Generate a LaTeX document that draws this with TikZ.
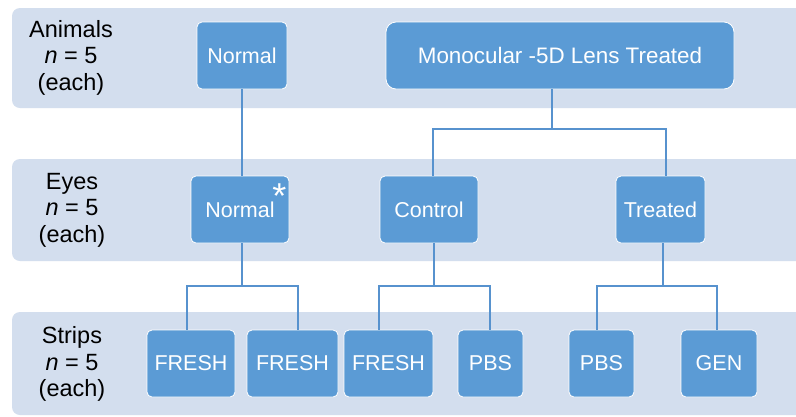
\documentclass[tikz,border=0pt]{standalone}
\usepackage{fontspec}
\setmainfont{Liberation Sans}
\definecolor{bandc}{HTML}{D3DEEE}
\definecolor{boxc}{HTML}{5B9BD5}
\definecolor{linkc}{HTML}{5792CE}
\tikzset{
  band/.style={fill=bandc},
  box/.style={rectangle, rounded corners=5pt, fill=boxc, draw=white, line width=0.8pt,
    text=white, inner sep=0pt, minimum height=67pt, font=\fontsize{21.5}{24}\selectfont},
  lbl/.style={align=center, text=black, inner sep=0pt, font=\fontsize{23.5}{26.5}\selectfont},
  link/.style={draw=linkc, line width=1.4pt}
}
\begin{document}
\begin{tikzpicture}[x=1pt,y=-1pt]
\useasboundingbox (0,0) rectangle (796,416);
\fill[white] (0,0) rectangle (796,416);
% bands
\fill[band] (796,8) [rounded corners=8pt]-- (12,8) -- (12,108) [sharp corners]-- (796,108) -- cycle;
\fill[band] (796,159) [rounded corners=8pt]-- (12,159) -- (12,261) [sharp corners]-- (796,261) -- cycle;
\fill[band] (796,312) [rounded corners=8pt]-- (12,312) -- (12,415) [sharp corners]-- (796,415) -- cycle;
% row labels
\node[lbl] (l1) at (71,57.5) {Animals\\\textit{n} = 5\\(each)};
\node[lbl] (l2) at (72,210) {Eyes\\\textit{n} = 5\\(each)};
\node[lbl] (l3) at (72,364) {Strips\\\textit{n} = 5\\(each)};
% top row
\node[box, minimum width=90pt] (aN) at (242,55.5) {Normal};
\node[box, minimum width=348pt, rounded corners=10pt, font=\fontsize{22.4}{26}\selectfont] (aM) at (560,55.5) {Monocular -5D Lens Treated};
% eyes row
\node[box, minimum width=98pt] (eN) at (240,209.5) {Normal};
\node[text=white, inner sep=0pt, anchor=north, font=\fontsize{36}{36}\selectfont] (ast) at (279.5,184) {*};
\node[box, minimum width=98pt] (eC) at (429,209.5) {Control};
\node[box, minimum width=89pt] (eT) at (660.5,209.5) {Treated};
% strips row
\node[box, minimum width=88pt] (s1) at (191,363.5) {FRESH};
\node[box, minimum width=91pt] (s2) at (292.5,363.5) {FRESH};
\node[box, minimum width=89pt] (s3) at (388.5,363.5) {FRESH};
\node[box, minimum width=65pt] (s4) at (490.5,363.5) {PBS};
\node[box, minimum width=65pt] (s5) at (601.5,363.5) {PBS};
\node[box, minimum width=76pt] (s6) at (719,363.5) {GEN};
% connectors level 1 -> 2
\coordinate (h1) at (0,129);
\coordinate (h2) at (0,286);
\coordinate (pM) at ([xshift=-8pt]aM.south);
\coordinate (pC) at ([xshift=4pt]eC.north);
\coordinate (pT) at ([xshift=5.5pt]eT.north);
\draw[link] (aN.south) -- (eN.north -| aN.south);
\draw[link] (pM) -- (pM |- h1);
\draw[link] (pC) -- (pC |- h1) -- (pT |- h1) -- (pT);
% connectors level 2 -> 3
\coordinate (qN) at ([xshift=2pt]eN.south);
\coordinate (qC) at ([xshift=5pt]eC.south);
\coordinate (qT) at ([xshift=2.5pt]eT.south);
\coordinate (r1) at ([xshift=-4pt]s1.north);
\coordinate (r2) at ([xshift=5.5pt]s2.north);
\coordinate (r3) at ([xshift=-9.5pt]s3.north);
\coordinate (r4) at ([xshift=-0.5pt]s4.north);
\coordinate (r5) at ([xshift=-4.5pt]s5.north);
\coordinate (r6) at ([xshift=-2pt]s6.north);
\draw[link] (qN) -- (qN |- h2);
\draw[link] (qC) -- (qC |- h2);
\draw[link] (qT) -- (qT |- h2);
\draw[link] (r1) -- (r1 |- h2) -- (r2 |- h2) -- (r2);
\draw[link] (r3) -- (r3 |- h2) -- (r4 |- h2) -- (r4);
\draw[link] (r5) -- (r5 |- h2) -- (r6 |- h2) -- (r6);
\end{tikzpicture}
\end{document}
